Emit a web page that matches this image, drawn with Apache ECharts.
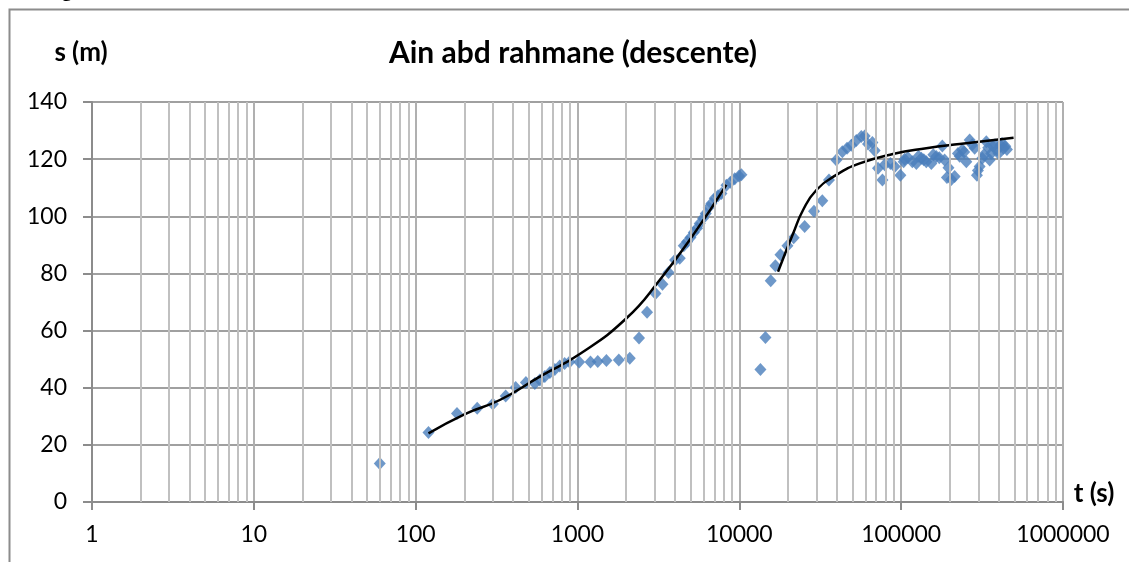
<!DOCTYPE html>
<html>
<head>
<meta charset="utf-8">
<script src="https://cdn.jsdelivr.net/npm/echarts@6/dist/echarts.min.js"></script>
<style>
html,body{margin:0;padding:0;background:#fff;}
#chart{width:1129px;height:562px;}
</style>
</head>
<body>
<div id="chart"></div>
<script>
// Observed drawdown: time t (s) and drawdown s (m)
const timeSec = [60, 120, 180, 240, 300, 360, 415, 480, 545, 585, 628, 675, 724, 777, 833, 893,
  1024, 1203, 1334, 1509, 1800, 2104, 2400, 2690, 3033, 3350, 3650, 4009, 4285, 4536, 4756, 4989,
  5229, 5480, 5690, 5970, 6200, 6470, 6720, 7050, 7390, 7750, 8320, 8810, 9370, 9960, 10300,
  13500, 14500, 15630, 16700, 17950, 19830, 21670, 25330, 28930, 32560, 35800, 39800, 43300,
  46300, 49200, 52800, 56700, 59500, 62400, 66400, 68600, 71900, 76600, 79100, 85800, 91200,
  98900, 103600, 110000, 117200, 124100, 133300, 143000, 153600, 164800, 179600, 185600, 191800,
  204100, 214000, 224300, 238700, 252700, 265000, 284500, 293900, 305300, 317200, 335800, 352300,
  369200, 390700, 409600, 429500, 450300,
  105000, 128000, 138000, 158000, 172000, 196000, 230000, 245000, 275000, 298000, 325000, 345000,
  360000, 380000, 400000, 420000, 440000];
const drawdown = [13.5, 24.3, 31.0, 32.8, 34.3, 37.1, 40.1, 41.8, 41.5, 42.7, 43.9, 45.3, 46.4, 47.6, 48.5, 49.0,
  49.0, 49.0, 49.2, 49.5, 49.7, 50.3, 57.4, 66.4, 73.0, 76.2, 80.3, 84.7, 85.3, 89.7, 91.1, 92.6,
  94.3, 95.8, 97.5, 99.3, 101.0, 103.1, 104.5, 106.3, 107.2, 108.0, 110.9, 111.9, 113.1, 114.1, 114.5,
  46.4, 57.6, 77.4, 82.7, 86.5, 89.7, 92.5, 96.4, 101.8, 105.4, 112.7, 119.7, 122.6,
  123.8, 124.9, 126.5, 127.9, 128.1, 125.3, 125.8, 123.0, 116.8, 112.7, 118.0, 118.5, 117.4,
  114.4, 119.1, 120.6, 119.1, 118.5, 120.3, 119.1, 118.5, 120.9, 124.6, 119.7, 113.6,
  112.9, 113.9, 122.0, 123.2, 119.1, 126.7, 123.8, 114.4, 117.4, 120.3, 126.1, 119.7,
  124.4, 123.2, 124.9, 123.8, 123.4,
  120.0, 121.0, 119.8, 121.5, 120.5, 117.0, 121.0, 122.5, 125.0, 116.0, 121.5, 124.0,
  122.0, 125.0, 122.0, 125.5, 124.5];

// Fitted curves
const trend1T = [120, 200, 331, 585, 1033, 2006, 3222, 5176, 8320];
const trend1S = [24.0, 30.7, 35.7, 43.9, 51.8, 64.3, 77.7, 93.4, 111.0];
const trend2T = [17340, 19500, 21500, 24770, 29950, 39800, 55460, 88900, 143000, 229800, 495000];
const trend2S = [80.6, 88.0, 94.0, 102.2, 109.2, 114.5, 118.5, 121.8, 123.8, 125.3, 127.5];

// Axis settings
const xMin = 1, xMax = 1000000;
const yMin = 0, yMax = 140, yStep = 20;
const minorMultipliers = [2, 3, 4, 5, 6, 7, 8, 9];
const decades = [1, 10, 100, 1000, 10000, 100000];

const titleText = 'Ain abd rahmane (descente)';
const yName = 's (m)';
const xName = 't (s)';

const obsData = timeSec.map((t, i) => [t, drawdown[i]]);
const t1Data = trend1T.map((t, i) => [t, trend1S[i]]);
const t2Data = trend2T.map((t, i) => [t, trend2S[i]]);
const minorLines = [];
decades.forEach(d => minorMultipliers.forEach(m => minorLines.push({ xAxis: d * m })));

const chart = echarts.init(document.getElementById('chart'), null, { renderer: 'canvas' });
const tickFont = { fontFamily: 'Lato', fontSize: 23, color: '#000' };

chart.setOption({
  animation: false,
  backgroundColor: '#fff',
  grid: { left: 92, right: 66, top: 102, bottom: 60, containLabel: false },
  xAxis: {
    type: 'log', logBase: 10, min: xMin, max: xMax,
    axisLine: { show: true, onZero: false, lineStyle: { color: '#8c8c8c', width: 2 } },
    axisTick: { show: true, inside: false, length: 8, lineStyle: { color: '#8c8c8c', width: 2 } },
    axisLabel: Object.assign({ margin: 21, formatter: v => String(Math.round(v)) }, tickFont),
    splitLine: { show: true, lineStyle: { color: '#b0b0b0', width: 2 } },
    minorTick: { show: false }
  },
  yAxis: {
    type: 'value', min: yMin, max: yMax, interval: yStep,
    axisLine: { show: true, lineStyle: { color: '#8c8c8c', width: 2 } },
    axisTick: { show: true, inside: false, length: 9, lineStyle: { color: '#8c8c8c', width: 2 } },
    axisLabel: Object.assign({ margin: 25 }, tickFont),
    splitLine: { show: true, lineStyle: { color: '#a0a0a0', width: 2 } }
  },
  graphic: [
    { type: 'rect', silent: true, z: -1, shape: { x: 9.5, y: 9.5, width: 1300, height: 700 },
      style: { fill: null, stroke: '#8c8c8c', lineWidth: 2 } },
    { type: 'text', x: 62, y: -19, style: { text: 'g', font: 'bold 20px "Liberation Serif"', fill: '#000' } },
    { type: 'text', x: 573, y: 53, style: { text: titleText, font: 'bold 30px Lato', fill: '#000', align: 'center', verticalAlign: 'middle' } },
    { type: 'text', x: 81, y: 53, style: { text: yName, font: 'bold 26px Lato', fill: '#000', align: 'center', verticalAlign: 'middle' } },
    { type: 'text', x: 1094, y: 494, style: { text: xName, font: 'bold 26px Lato', fill: '#000', align: 'center', verticalAlign: 'middle' } }
  ],
  series: [
    {
      type: 'line', data: [], z: 1, silent: true,
      markLine: {
        silent: true, symbol: 'none', label: { show: false }, animation: false,
        lineStyle: { color: '#c0c0c0', width: 2, type: 'solid' },
        emphasis: { disabled: true },
        data: minorLines
      }
    },
    {
      type: 'scatter', data: obsData, symbol: 'diamond', symbolSize: [12, 13], z: 3,
      itemStyle: { color: '#4a7ebb' }
    },
    {
      type: 'line', data: t1Data, smooth: true, symbol: 'none', z: 4,
      lineStyle: { color: '#000', width: 2.5 }
    },
    {
      type: 'line', data: t2Data, smooth: true, symbol: 'none', z: 4,
      lineStyle: { color: '#000', width: 2.5 }
    }
  ]
});
</script>
</body>
</html>
